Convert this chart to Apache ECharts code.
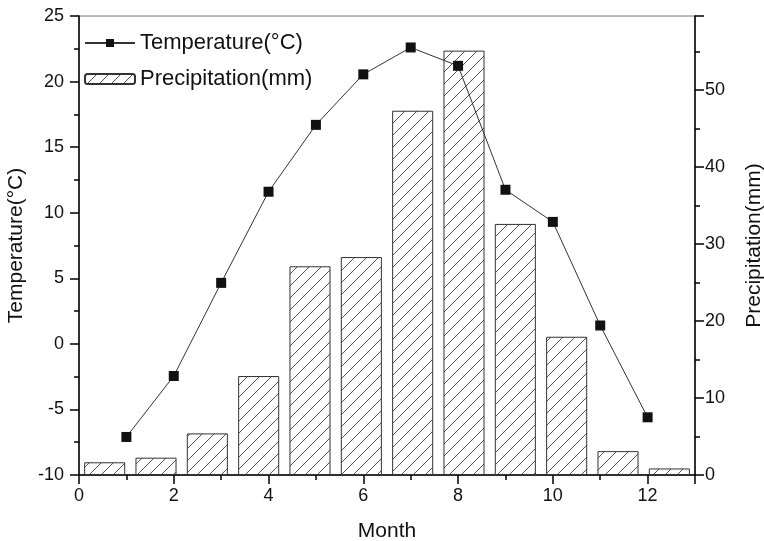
<!DOCTYPE html>
<html><head><meta charset="utf-8">
<script src="https://cdn.jsdelivr.net/npm/echarts@6/dist/echarts.min.js"></script>
<style>html,body{margin:0;padding:0;background:#fff}#c{width:764px;height:541px}</style>
</head><body><div id="c"></div>
<script>
const months = [1,2,3,4,5,6,7,8,9,10,11,12];
const temperature = [-7.1, -2.45, 4.65, 11.6, 16.7, 20.55, 22.6, 21.2, 11.75, 9.3, 1.4, -5.6];
const precipitation = [1.65, 2.25, 5.4, 12.85, 27.1, 28.3, 47.3, 55.1, 32.6, 17.95, 3.1, 0.85];
const tempTicks = {min: -10, max: 25, interval: 5};
const precTicks = {min: 0, max: 59.6, interval: 10};
const monthTicks = {min: 0, max: 13, interval: 2};

const FONT = "'Liberation Sans', Arial, sans-serif";
function hatch(){
  const s = 12, c = document.createElement('canvas');
  c.width = s; c.height = s;
  const g = c.getContext('2d');
  g.fillStyle = '#fff'; g.fillRect(0,0,s,s);
  g.strokeStyle = '#555'; g.lineWidth = 1;
  g.beginPath();
  g.moveTo(-1, s+1); g.lineTo(s+1, -1);
  g.moveTo(-1, 1); g.lineTo(1, -1);
  g.moveTo(s-1, s+1); g.lineTo(s+1, s-1);
  g.stroke();
  return c;
}
const chart = echarts.init(document.getElementById('c'));
function axisBase(margin){
  return {
    axisLine: {show: true, onZero: false, lineStyle: {color: '#000', width: 1.5}},
    axisTick: {show: true, inside: false, length: 9, lineStyle: {color: '#000', width: 1.5}},
    minorTick: {show: true, splitNumber: 2, length: 5, lineStyle: {color: '#000', width: 1.5}},
    splitLine: {show: false},
    axisLabel: {color: '#111', fontSize: 18, fontFamily: FONT, margin: margin},
    nameTextStyle: {color: '#111', fontSize: 21, fontFamily: FONT}
  };
}
const xb = axisBase(12), yl = axisBase(15), yr = axisBase(10);
chart.setOption({
  animation: false,
  backgroundColor: '#fff',
  grid: {left: 79, right: 69, top: 16, bottom: 66, containLabel: false, outerBoundsMode: 'none',
         show: true, borderColor: '#777', borderWidth: 1},
  legend: {
    orient: 'vertical', left: 84, top: 32, padding: 0, itemWidth: 50, itemHeight: 10, itemGap: 14,
    textStyle: {color: '#111', fontSize: 22, fontFamily: FONT},
    data: ['Temperature(°C)', 'Precipitation(mm)']
  },
  xAxis: [
    Object.assign({}, xb, {
      type: 'value', position: 'bottom', min: monthTicks.min, max: monthTicks.max, interval: monthTicks.interval,
      name: 'Month', nameLocation: 'middle', nameGap: 46,
      axisLabel: Object.assign({}, xb.axisLabel, {showMaxLabel: false})
    }),
    {type: 'category', data: months, show: false, boundaryGap: true}
  ],
  yAxis: [
    Object.assign({}, yl, {
      type: 'value', position: 'left', min: tempTicks.min, max: tempTicks.max, interval: tempTicks.interval,
      name: 'Temperature(°C)', nameLocation: 'middle', nameGap: 52
    }),
    Object.assign({}, yr, {
      type: 'value', position: 'right', min: precTicks.min, max: precTicks.max, interval: precTicks.interval,
      name: 'Precipitation(mm)', nameLocation: 'middle', nameGap: 49, nameRotate: 90,
      axisLabel: Object.assign({}, yr.axisLabel, {showMaxLabel: false})
    })
  ],
  series: [
    {
      name: 'Precipitation(mm)', type: 'bar', xAxisIndex: 1, yAxisIndex: 1,
      data: precipitation, barCategoryGap: '20%',
      itemStyle: {color: {image: hatch(), repeat: 'repeat'}, borderColor: '#333', borderWidth: 1}, z: 2
    },
    {
      name: 'Temperature(°C)', type: 'line', xAxisIndex: 0, yAxisIndex: 0,
      data: months.map((m, i) => [m, temperature[i]]),
      symbol: 'rect', symbolSize: 10,
      lineStyle: {color: '#333', width: 1},
      itemStyle: {color: '#111'}, z: 5
    }
  ]
});
</script></body></html>
